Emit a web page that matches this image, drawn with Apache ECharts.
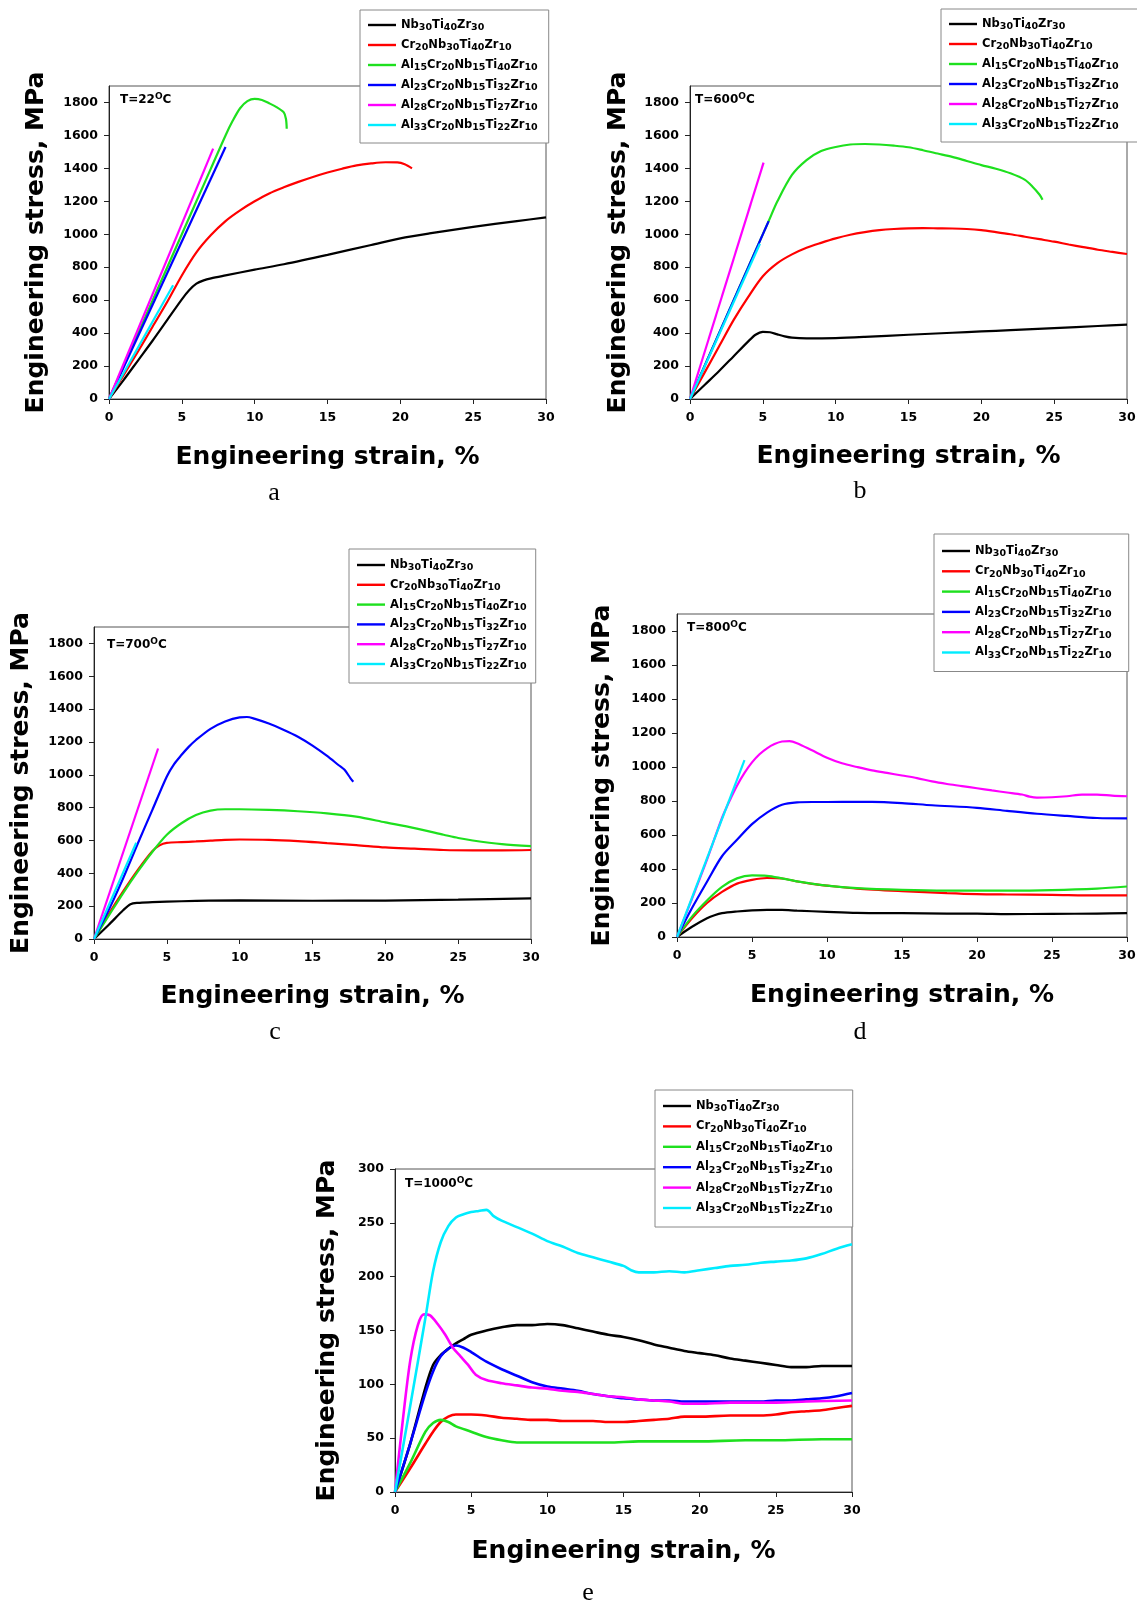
<!DOCTYPE html>
<html><head><meta charset="utf-8">
<script src="https://cdn.jsdelivr.net/npm/echarts@6/dist/echarts.min.js"></script>
<style>html,body{margin:0;padding:0;background:#fff}#c{width:1137px;height:1609px}</style>
</head><body><div id="c"></div>
<script>
// ---------- tick labels / categories ----------
const strainTicks = [0, 5, 10, 15, 20, 25, 30];
const stressTicksHi = [0, 200, 400, 600, 800, 1000, 1200, 1400, 1600, 1800];
const stressTicksLo = [0, 50, 100, 150, 200, 250, 300];
const alloys = ['Nb30Ti40Zr30', 'Cr20Nb30Ti40Zr10', 'Al15Cr20Nb15Ti40Zr10', 'Al23Cr20Nb15Ti32Zr10', 'Al28Cr20Nb15Ti27Zr10', 'Al33Cr20Nb15Ti22Zr10'];
const temps = ['22', '600', '700', '800', '1000'];
const panelLetters = ['a', 'b', 'c', 'd', 'e'];

// ---------- panel a : T = 22 C  [strain %, stress MPa] ----------
const aNb   = [[0,0],[1,115],[2,235],[3,355],[4,480],[5,605],[5.5,660],[6,700],[6.5,720],[7,732],[8,750],[10,785],[12,818],[15,875],[18,935],[20,975],[22,1005],[25,1045],[28,1080],[30,1102]];
const aCr   = [[0,0],[1,145],[2,290],[3,440],[4,590],[5,750],[6,890],[7,995],[8,1080],[9,1145],[10,1200],[11,1248],[12,1285],[13,1318],[14,1348],[15,1375],[16,1398],[17,1418],[18,1430],[19,1437],[19.8,1436],[20.3,1425],[20.8,1400]];
const aAl15 = [[0,0],[2,400],[4,800],[6,1200],[7,1400],[8,1600],[8.5,1690],[9,1765],[9.5,1808],[10,1822],[10.5,1815],[11,1795],[11.5,1772],[12,1740],[12.15,1700],[12.2,1640]];
const aAl23 = [[0,0],[8,1530]];
const aAl28 = [[0,0],[7.15,1520]];
const aAl33 = [[0,0],[4.4,690]];

// ---------- panel b : T = 600 C ----------
const bNb   = [[0,0],[1,85],[2,170],[3,260],[4,350],[4.5,390],[5,408],[5.5,405],[6,392],[6.5,380],[7,372],[8,368],[10,370],[12,377],[15,390],[18,402],[20,410],[22,418],[25,430],[28,443],[30,452]];
const bCr   = [[0,0],[1,160],[2,320],[3,480],[4,620],[5,745],[6,825],[7,878],[8,918],[9,948],[10,975],[11,997],[12,1013],[13,1025],[14,1032],[15,1036],[16,1037],[17,1036],[18,1035],[19,1032],[20,1025],[21,1013],[22,1000],[23,985],[24,970],[25,955],[26,938],[27,922],[28,906],[29,893],[30,880]];
const bAl15 = [[0,0],[2,400],[4,800],[5.4,1080],[6,1200],[7,1360],[8,1450],[9,1505],[10,1530],[11,1545],[12,1548],[13,1545],[14,1538],[15,1528],[16,1510],[17,1490],[18,1470],[19,1445],[20,1420],[21,1398],[22,1370],[23,1330],[23.5,1290],[24,1240],[24.2,1210]];
const bAl23 = [[0,0],[5.4,1080]];
const bAl28 = [[0,0],[5.05,1435]];
const bAl33 = [[0,0],[4.8,942]];

// ---------- panel c : T = 700 C ----------
const cNb   = [[0,0],[1,85],[2,175],[2.5,212],[3,220],[4,224],[5,227],[7,232],[10,235],[15,233],[20,234],[25,240],[30,248]];
const cCr   = [[0,0],[1,150],[2,290],[3,420],[4,535],[4.5,570],[5,585],[6,590],[7,594],[8,599],[9,604],[10,606],[12,604],[14,596],[16,584],[18,572],[20,558],[22,550],[24,542],[26,540],[28,540],[30,542]];
const cAl15 = [[0,0],[1,140],[2,280],[3,410],[4,530],[5,635],[6,705],[7,755],[8,782],[9,790],[10,790],[12,786],[14,778],[16,765],[18,745],[20,710],[22,675],[24,635],[25,615],[26,600],[28,578],[30,565]];
const cAl23 = [[0,0],[1,175],[2,370],[3,580],[4,785],[5,990],[5.5,1065],[6,1120],[6.5,1170],[7,1212],[8,1280],[9,1325],[10,1350],[10.5,1352],[11,1342],[12,1312],[13,1275],[14,1232],[15,1178],[16,1115],[16.8,1058],[17.2,1030],[17.6,980],[17.8,958]];
const cAl28 = [[0,0],[4.4,1160]];
const cAl33 = [[0,0],[2.9,586]];

// ---------- panel d : T = 800 C ----------
const dNb   = [[0,0],[1,60],[2,110],[2.5,128],[3,140],[4,150],[5,157],[6,160],[7,160],[8,155],[10,148],[12,142],[15,140],[18,138],[20,138],[22,135],[25,136],[28,138],[30,140]];
const dCr   = [[0,0],[1,110],[2,200],[3,265],[4,314],[5,336],[6,347],[7,344],[8,327],[9,312],[10,302],[12,285],[15,270],[18,258],[20,252],[22,250],[25,248],[28,245],[30,245]];
const dAl15 = [[0,0],[1,120],[2,215],[3,295],[4,345],[5,362],[6,360],[7,345],[8,327],[10,302],[12,287],[15,277],[18,273],[20,273],[22,273],[25,276],[28,285],[30,297]];
const dAl23 = [[0,0],[1,170],[2,325],[3,475],[4,572],[5,664],[6,732],[7,778],[8,792],[9,794],[10,794],[12,795],[13,795],[15,788],[17,775],[20,760],[22,742],[24,725],[26,712],[28,700],[30,698]];
const dAl28 = [[0,0],[1,225],[2,455],[3,700],[3.5,800],[4,890],[4.5,965],[5,1027],[5.5,1075],[6,1110],[6.5,1135],[7,1150],[7.5,1152],[8,1140],[9,1098],[10,1055],[11,1022],[12,1000],[13,980],[14,965],[15,950],[16,935],[17,915],[18,900],[19,888],[20,875],[21,862],[22,850],[23,838],[23.5,826],[24,820],[25,822],[26,828],[27,838],[28,838],[29,832],[30,828]];
const dAl33 = [[0,0],[4.5,1040]];

// ---------- panel e : T = 1000 C ----------
const eNb   = [[0,0],[1,45],[2,97],[2.5,118],[3,127],[3.5,133],[4,138],[4.5,142],[5,146],[6,150],[7,153],[8,155],[9,155],[10,156],[11,155],[12,152],[13,149],[14,146],[15,144],[16,141],[17,137],[18,134],[19,131],[20,129],[21,127],[22,124],[23,122],[24,120],[25,118],[26,116],[27,116],[28,117],[29,117],[30,117]];
const eCr   = [[0,0],[1,22],[2,45],[2.5,56],[3,65],[3.5,70],[4,72],[5,72],[6,71],[7,69],[8,68],[9,67],[10,67],[11,66],[12,66],[13,66],[14,65],[15,65],[16,66],[17,67],[18,68],[19,70],[20,70],[22,71],[24,71],[25,72],[26,74],[27,75],[28,76],[29,78],[30,80]];
const eAl15 = [[0,0],[1,27],[2,56],[2.5,64],[3,67],[3.5,65],[4,61],[5,56],[6,51],[7,48],[8,46],[10,46],[12,46],[14,46],[16,47],[18,47],[20,47],[23,48],[25,48],[28,49],[30,49]];
const eAl23 = [[0,0],[1,45],[2,92],[2.5,112],[3,126],[3.5,133],[4,136],[4.5,134],[5,130],[6,121],[7,114],[8,108],[9,102],[10,98],[11,96],[12,94],[13,91],[14,89],[15,87],[16,86],[17,85],[18,85],[19,84],[20,84],[22,84],[24,84],[25,85],[26,85],[27,86],[28,87],[29,89],[30,92]];
const eAl28 = [[0,0],[0.5,65],[1,122],[1.5,155],[1.9,165],[2.3,164],[2.8,156],[3.3,146],[3.8,134],[4.3,126],[4.8,118],[5.3,109],[6,104],[7,101],[8,99],[9,97],[10,96],[11,94],[12,93],[13,91],[14,89],[15,88],[16,86],[17,85],[18,84],[19,82],[20,82],[22,83],[24,83],[25,83],[27,84],[30,85]];
const eAl33 = [[0,0],[1,80],[2,162],[2.5,205],[3,232],[3.5,247],[4,255],[4.5,258],[5,260],[5.5,261],[6,262],[6.5,256],[7,252],[8,246],[9,240],[10,233],[11,228],[12,222],[13,218],[14,214],[15,210],[15.5,206],[16,204],[17,204],[18,205],[19,204],[20,206],[21,208],[22,210],[23,211],[24,213],[25,214],[26,215],[27,217],[28,221],[29,226],[30,230]];

const panelData = [
  [aNb, aCr, aAl15, aAl23, aAl28, aAl33],
  [bNb, bCr, bAl15, bAl23, bAl28, bAl33],
  [cNb, cCr, cAl15, cAl23, cAl28, cAl33],
  [dNb, dCr, dAl15, dAl23, dAl28, dAl33],
  [eNb, eCr, eAl15, eAl23, eAl28, eAl33]
];
const yMaxes = [1900, 1900, 1900, 1900, 300];
const yTickSets = [stressTicksHi, stressTicksHi, stressTicksHi, stressTicksHi, stressTicksLo];

// ---------- styling / layout ----------
const colors = ['#000000', '#ff0000', '#1ee01e', '#0000ff', '#ff00ff', '#00ecff'];
const L = [
  {g:[109, 86, 437, 313],  lg:[360, 10,  [9, 11, 10, 8], 6],    t:[120, 92],   s:[274, 480],  yg:60, xg:46, lw:2.2},
  {g:[690, 86, 437, 313],  lg:[941, 9,   [9, 22, 10, 8], 6],    t:[695, 92],   s:[860, 478],  yg:59, xg:45, lw:2.2},
  {g:[94, 627, 437, 312],  lg:[349, 549, [10, 9, 11, 8], 5.8],  t:[107, 637],  s:[275, 1019], yg:60, xg:45, lw:2.2},
  {g:[677, 614, 450, 323], lg:[934, 534, [11, 17, 11, 8], 6.3], t:[687, 620],  s:[860, 1019], yg:62, xg:46, lw:2.2},
  {g:[395, 1169, 457, 323],lg:[655, 1090,[10, 20, 11, 8], 6.4], t:[405, 1176], s:[588, 1580], yg:55, xg:47, lw:2.6}
];
const WIDE = 'DejaVu Sans, sans-serif';

const legendRich = {
  n: {fontFamily: WIDE, fontWeight: 'bold', fontSize: 11.5, lineHeight: 16, verticalAlign: 'middle', color: '#000'},
  s: {fontFamily: WIDE, fontWeight: 'bold', fontSize: 9.5, lineHeight: 9, verticalAlign: 'bottom', color: '#000'}
};
const tempRich = {
  n: {fontFamily: WIDE, fontWeight: 'bold', fontSize: 12, lineHeight: 16, verticalAlign: 'middle', color: '#000'},
  o: {fontFamily: WIDE, fontWeight: 'bold', fontSize: 9, lineHeight: 9, verticalAlign: 'top', color: '#000'}
};
function fmtName(name) { return name.replace(/([A-Za-z]+)(\d+)/g, '{n|$1}{s|$2}'); }
function fmtTick(v) { return String(v); }

const grid = [], xAxis = [], yAxis = [], legend = [], title = [], series = [];
for (let p = 0; p < 5; p++) {
  const l = L[p];
  grid.push({left: l.g[0], top: l.g[1], width: l.g[2], height: l.g[3], show: true,
    borderColor: '#555', borderWidth: 1, backgroundColor: 'transparent',
    containLabel: false, outerBoundsMode: 'none'});
  xAxis.push({type: 'value', gridIndex: p, min: 0, max: 30,
    name: 'Engineering strain, %', nameLocation: 'middle', nameGap: l.xg, nameMoveOverlap: false,
    nameTextStyle: {fontFamily: WIDE, fontWeight: 'bold', fontSize: 25, color: '#000'},
    axisLine: {show: true, onZero: false, lineStyle: {color: '#222', width: 1}},
    axisTick: {show: true, inside: false, length: 5, lineStyle: {color: '#222'}, customValues: strainTicks},
    axisLabel: {show: true, margin: 12, fontFamily: WIDE, fontWeight: 'bold', fontSize: 12.5, color: '#000',
      customValues: strainTicks, formatter: fmtTick},
    splitLine: {show: false}, minorTick: {show: false}});
  yAxis.push({type: 'value', gridIndex: p, min: 0, max: yMaxes[p],
    name: 'Engineering stress, MPa', nameLocation: 'middle', nameGap: l.yg, nameMoveOverlap: false,
    nameTextStyle: {fontFamily: WIDE, fontWeight: 'bold', fontSize: 25, color: '#000'},
    axisLine: {show: true, onZero: false, lineStyle: {color: '#222', width: 1}},
    axisTick: {show: true, inside: false, length: 5, lineStyle: {color: '#222'}, customValues: yTickSets[p]},
    axisLabel: {show: true, margin: 11, fontFamily: WIDE, fontWeight: 'bold', fontSize: 12.5, color: '#000',
      customValues: yTickSets[p], formatter: fmtTick},
    splitLine: {show: false}, minorTick: {show: false}});
  legend.push({orient: 'vertical', left: l.lg[0], top: l.lg[1], padding: l.lg[2],
    data: alloys.slice(), icon: 'rect', itemWidth: 28, itemHeight: 2.4, itemGap: l.lg[3],
    backgroundColor: '#fff', borderColor: '#888', borderWidth: 1, borderRadius: 0, z: 10,
    selectedMode: false, formatter: fmtName,
    textStyle: {color: '#000', rich: legendRich}});
  title.push({text: '{n|T=' + temps[p] + '}{o|O}{n|C}', left: l.t[0], top: l.t[1], padding: 0,
    textStyle: {rich: tempRich}, z: 8});
  title.push({text: panelLetters[p], left: l.s[0], top: l.s[1], padding: 0, textAlign: 'center',
    textStyle: {fontFamily: 'Liberation Serif, Times New Roman, serif', fontWeight: 'normal', fontSize: 26, color: '#000'}});
  for (let k = 0; k < alloys.length; k++) {
    series.push({name: alloys[k], type: 'line', xAxisIndex: p, yAxisIndex: p,
      data: panelData[p][k], showSymbol: false, symbol: 'none', smooth: 0.3,
      lineStyle: {width: l.lw, color: colors[k]}, itemStyle: {color: colors[k]},
      emphasis: {disabled: true}, z: 2 + k});
  }
}

const chart = echarts.init(document.getElementById('c'), null, {renderer: 'canvas'});
chart.setOption({backgroundColor: '#fff', animation: false, color: colors,
  grid, xAxis, yAxis, legend, title, series, tooltip: {show: false}});
</script></body></html>
